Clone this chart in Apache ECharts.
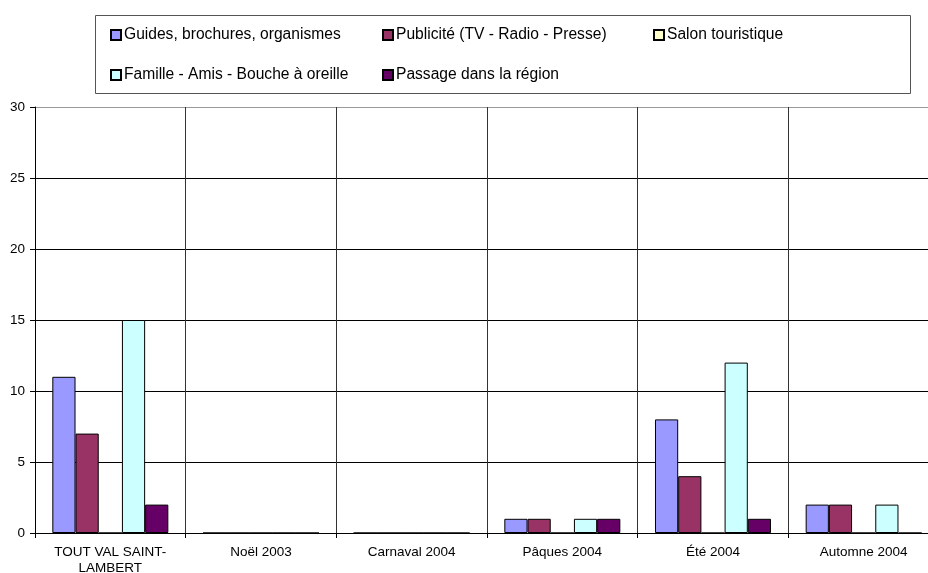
<!DOCTYPE html>
<html><head><meta charset="utf-8">
<script src="https://cdn.jsdelivr.net/npm/echarts@6/dist/echarts.min.js"></script>
<style>html,body{margin:0;padding:0;background:#fff;overflow:hidden}#c{width:928px;height:573px}</style>
</head><body><div id="c"></div>
<script>
const categories = ['TOUT VAL SAINT-\nLAMBERT', 'Noël 2003', 'Carnaval 2004', 'Pâques 2004', 'Été 2004', 'Automne 2004'];
const seriesNames = ['Guides, brochures, organismes', 'Publicité (TV - Radio - Presse)', 'Salon touristique', 'Famille - Amis - Bouche à oreille', 'Passage dans la région'];
const guides = [11, 0, 0, 1, 8, 2];
const publicite = [7, 0, 0, 1, 4, 2];
const salon = [0, 0, 0, 0, 0, 0];
const famille = [15, 0, 0, 1, 12, 2];
const passage = [2, 0, 0, 1, 1, 0];
const yTicks = [0, 5, 10, 15, 20, 25, 30];

const values = [guides, publicite, salon, famille, passage];
const colors = ['#9999FF', '#993366', '#FFFFCC', '#CCFFFF', '#660066'];
const font = 'Liberation Sans, Arial, sans-serif';

const chart = echarts.init(document.getElementById('c'), null, {renderer: 'canvas'});
const legendPos = [[110, 27], [382, 27], [653, 27], [110, 67], [382, 67]];
const legends = seriesNames.map((n, i) => ({
  data: [n], left: legendPos[i][0], top: legendPos[i][1],
  itemWidth: 10, itemHeight: 10, itemGap: 0, padding: 0,
  textStyle: {fontFamily: font, fontSize: 15.6, color: '#000', padding: [0, 0, 0, -2]},
  selectedMode: false, icon: 'rect'
}));
chart.setOption({
  animation: false,
  textStyle: {fontFamily: font},
  graphic: [{type: 'rect', left: 93, top: 13, shape: {width: 815, height: 78},
    style: {fill: 'none', stroke: '#555', lineWidth: 1}, z: 0}],
  legend: legends,
  grid: {left: 35, top: 107, width: 904, height: 426, containLabel: false, outerBoundsMode: 'none'},
  xAxis: {
    type: 'category', data: categories, boundaryGap: true,
    axisLine: {show: true, lineStyle: {color: '#000', width: 1}},
    axisTick: {show: true, length: 5, alignWithLabel: false, lineStyle: {color: '#000'}},
    splitLine: {show: true, lineStyle: {color: '#333', width: 1}},
    axisLabel: {interval: 0, fontSize: 13.5, color: '#000', fontFamily: font, margin: 11, lineHeight: 16}
  },
  yAxis: {
    type: 'value', min: 0, max: 30, interval: 5,
    axisLine: {show: true, lineStyle: {color: '#000'}},
    axisTick: {show: true, length: 5, lineStyle: {color: '#000'}},
    splitLine: {show: true, lineStyle: {color: ['#000', '#000', '#000', '#000', '#000', '#000', '#999'], width: 1}},
    axisLabel: {fontSize: 13.5, color: '#000', fontFamily: font, margin: 10,
      formatter: v => yTicks.includes(v) ? String(v) : ''}
  },
  series: seriesNames.map((n, i) => ({
    name: n, type: 'bar', data: values[i],
    barGap: '0%', barCategoryGap: '23%',
    itemStyle: {color: colors[i], borderColor: '#000', borderWidth: 1}
  }))
});
</script></body></html>
